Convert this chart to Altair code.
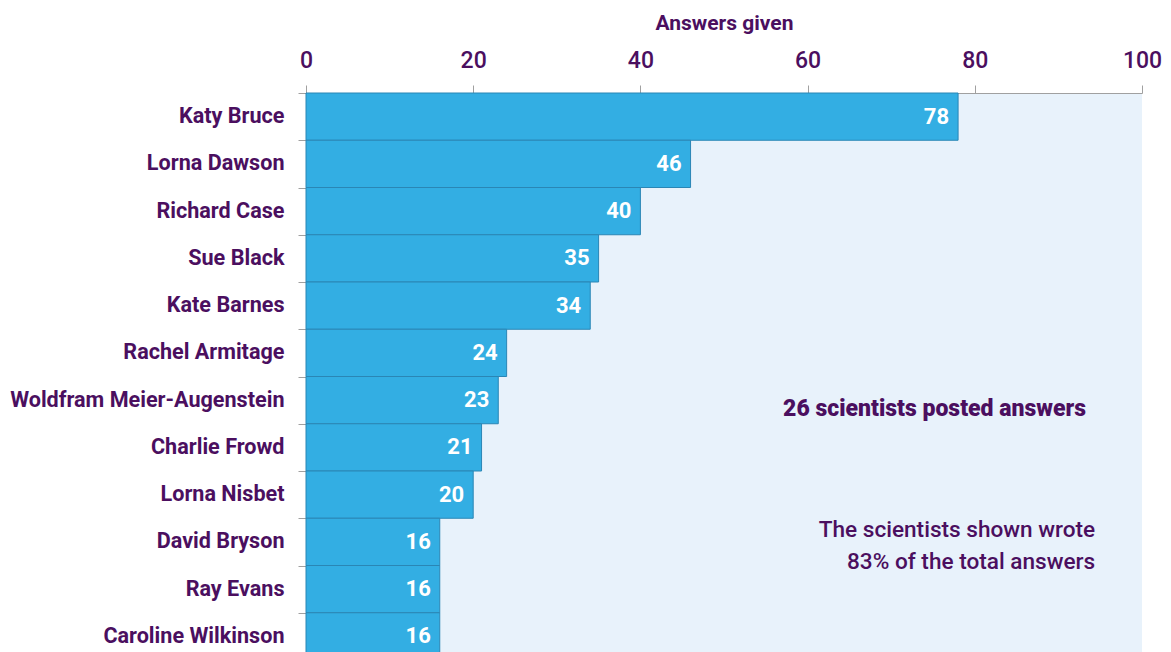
import altair as alt
import pandas as pd

names = ["Katy Bruce", "Lorna Dawson", "Richard Case", "Sue Black", "Kate Barnes",
         "Rachel Armitage", "Woldfram Meier-Augenstein", "Charlie Frowd", "Lorna Nisbet",
         "David Bryson", "Ray Evans", "Caroline Wilkinson"]
answers = [78, 46, 40, 35, 34, 24, 23, 21, 20, 16, 16, 16]
x_ticks = [0, 20, 40, 60, 80, 100]

note1 = "26 scientists posted answers"
note2 = ["The scientists shown wrote", "83% of the total answers"]

PURPLE = "#4b0f5f"
FONT = "Roboto, sans-serif"

df = pd.DataFrame({"name": names, "answers": answers})

x = alt.X("answers:Q",
          scale=alt.Scale(domain=[0, 100], nice=False),
          axis=alt.Axis(orient="top", values=x_ticks, title="Answers given",
                        titleFontSize=21, titleFontWeight="bold", titleColor=PURPLE,
                        titleFont=FONT, titlePadding=16,
                        labelFontSize=23, labelFontWeight=500, labelColor=PURPLE,
                        labelFont=FONT, labelFlush=False,
                        labelPadding=13, tickColor="#a0a0a0", tickSize=8,
                        domainColor="#a0a0a0", grid=False))
y = alt.Y("name:N", sort=names,
          scale=alt.Scale(paddingInner=0, paddingOuter=0),
          axis=alt.Axis(title=None, labelFontSize=21.6, labelFontWeight="bold",
                        labelColor=PURPLE, labelFont=FONT, labelPadding=14,
                        labelLimit=0,
                        tickColor="#a0a0a0", tickSize=8, tickBand="extent",
                        domainColor="#a0a0a0"))

bars = alt.Chart(df).mark_bar(color="#33aee3", stroke="#2a86b5", strokeWidth=1).encode(x=x, y=y)

labels = alt.Chart(df).mark_text(align="right", baseline="middle", dx=-9, color="white",
                                 fontSize=22, fontWeight="bold", font=FONT).encode(
    x="answers:Q", y=alt.Y("name:N", sort=names), text="answers:Q")

n1 = alt.Chart(pd.DataFrame({"t": [note1], "x": [93.3]})).mark_text(
    align="right", baseline="middle", color=PURPLE, fontSize=23, fontWeight=900,
    font=FONT).encode(x="x:Q", y=alt.value(316), text="t:N")

n2 = alt.Chart(pd.DataFrame({"t": [note2], "x": [94.4]})).mark_text(
    align="right", baseline="middle", color=PURPLE, fontSize=22.6, fontWeight=500,
    font=FONT, lineHeight=32).encode(x="x:Q", y=alt.value(437), text="t")

chart = alt.layer(bars, labels, n1, n2).properties(
    width=836, height=567,
    autosize=alt.AutoSizeParams(type="none"),
    padding={"left": 298, "top": 85, "right": 21, "bottom": 0},
    background="white",
).configure_view(stroke=None, fill="#e8f2fb")

chart.save("out.html", embed_options={"renderer": "svg", "actions": False})
